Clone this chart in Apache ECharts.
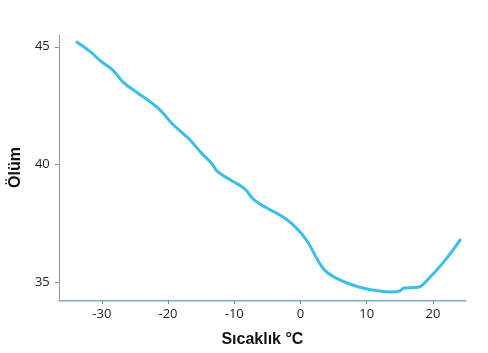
<!DOCTYPE html>
<html lang="tr">
<head>
    <meta charset="UTF-8">
    <title>Sıcaklık - Ölüm</title>
    <script src="https://cdn.jsdelivr.net/npm/echarts@6/dist/echarts.min.js"></script>
    <style>
        html, body { margin: 0; padding: 0; background: #fff; }
    </style>
</head>
<body>

<div id="main" style="width: 488px;height: 353px"></div>

<script>
    // sıcaklık (°C) ve ölüm değerleri
    var temps = [-33.9, -31.7, -30.3, -28.3, -26.8, -24.8, -22.3, -20.9, -19.4, -16.9,
                 -14.9, -13.4, -12.5, -10.5, -8.5, -7.0, -5.0, -3.0, -1.1, 0.9,
                 3.4, 5.4, 8.8, 11.3, 13.8, 15.0, 15.7, 17.7, 19.2, 21.7, 24.2];
    var deaths = [45.22, 44.78, 44.42, 44.0, 43.5, 43.08, 42.58, 42.23, 41.74, 41.1,
                  40.47, 40.04, 39.69, 39.33, 38.98, 38.49, 38.14, 37.83, 37.43, 36.79,
                  35.59, 35.17, 34.79, 34.65, 34.58, 34.63, 34.75, 34.78, 35.1, 35.88, 36.83];
    var xTicks = [-30, -20, -10, 0, 10, 20];
    var yTicks = [35, 40, 45];

    var points = temps.map(function (t, i) { return [t, deaths[i]]; });

    var myChart = echarts.init(document.getElementById('main'));

    var labelFont = { color: '#222', fontSize: 13, fontFamily: 'Open Sans' };

    var option = {
        animation: false,
        grid: { left: 51, right: 22, top: 35, bottom: 51 },
        xAxis: [{
            type: 'value',
            min: -36.5,
            max: 25,
            name: 'Sıcaklık °C',
            nameLocation: 'middle',
            nameGap: 32,
            nameTextStyle: { fontSize: 16, fontWeight: 'bold', color: '#111', fontFamily: 'Liberation Sans' },
            axisLine: { show: true, onZero: false, lineStyle: { color: '#93a5b6', width: 1 } },
            axisTick: { show: true, length: 4, customValues: xTicks, lineStyle: { color: '#7d8e9e' } },
            axisLabel: Object.assign({ margin: 8, customValues: xTicks }, labelFont),
            splitLine: { show: false }
        }, {
            type: 'value',
            position: 'bottom',
            offset: 1,
            min: -36.5,
            max: 25,
            axisLine: { show: true, onZero: false, lineStyle: { color: '#f6c3b4', width: 1 } },
            axisTick: { show: false },
            axisLabel: { show: false },
            splitLine: { show: false }
        }],
        yAxis: {
            type: 'value',
            min: 34.24,
            max: 45.5,
            name: 'Ölüm',
            nameLocation: 'middle',
            nameGap: 26,
            nameRotate: 90,
            nameTextStyle: { fontSize: 16, fontWeight: 'bold', color: '#111', fontFamily: 'Liberation Sans' },
            axisLine: { show: true, onZero: false, lineStyle: { color: '#8a9db0', width: 1 } },
            axisTick: { show: true, length: 4, customValues: yTicks, lineStyle: { color: '#7d8e9e' } },
            axisLabel: Object.assign({ margin: 9, customValues: yTicks }, labelFont),
            splitLine: { show: false }
        },
        series: [{
            type: 'line',
            data: points,
            smooth: 0.4,
            showSymbol: false,
            lineStyle: { color: '#3bbfe9', width: 3 }
        }]
    };

    myChart.setOption(option);
</script>

</body>
</html>
